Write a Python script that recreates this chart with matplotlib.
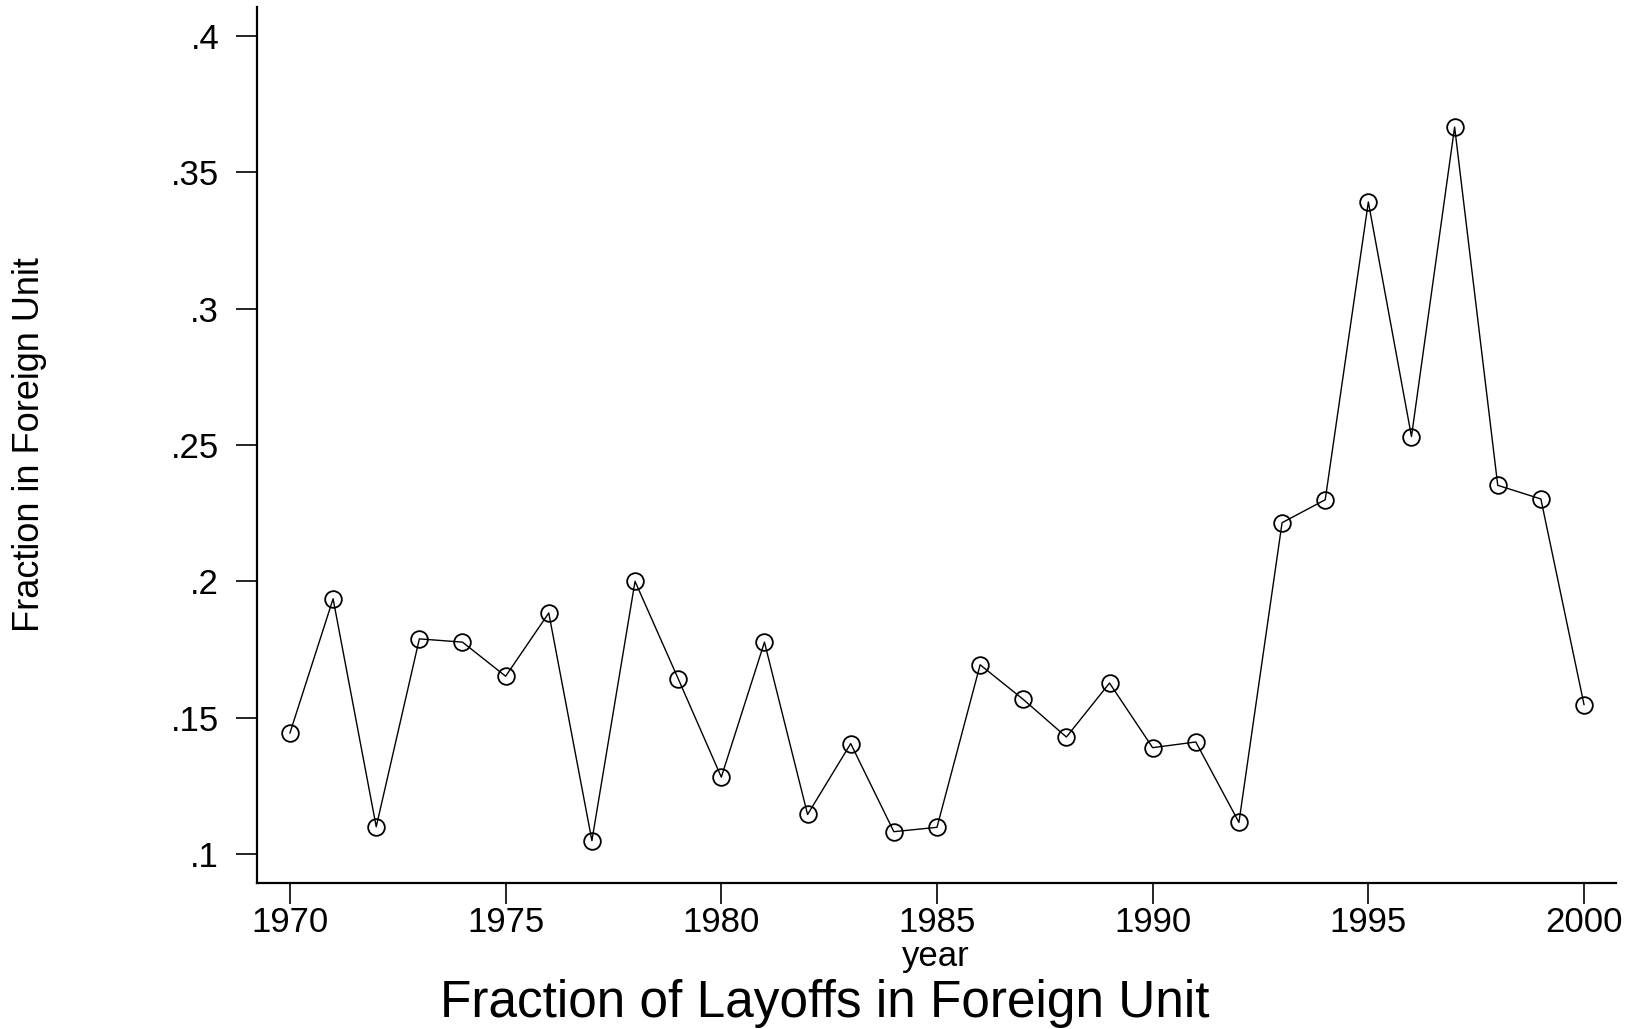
import numpy as np
import matplotlib
matplotlib.use("Agg")
import matplotlib.pyplot as plt
from matplotlib.ticker import FuncFormatter

plt.rcParams['font.family'] = ['Liberation Sans', 'DejaVu Sans']

years = np.arange(1970, 2001)
frac_foreign = [0.1444, 0.1936, 0.1100, 0.1789, 0.1777, 0.1652, 0.1884, 0.1049,
                0.2000, 0.1643, 0.1282, 0.1777, 0.1145, 0.1405, 0.1082, 0.1098,
                0.1694, 0.1567, 0.1429, 0.1627, 0.1390, 0.1411, 0.1116, 0.2215,
                0.2299, 0.3391, 0.2531, 0.3666, 0.2352, 0.2302, 0.1548]
yticks = [0.1, 0.15, 0.2, 0.25, 0.3, 0.35, 0.4]
xticks = [1970, 1975, 1980, 1985, 1990, 1995, 2000]

fig = plt.figure(figsize=(16.27, 10.29), dpi=100)
ax = fig.add_axes([0.1578, 0.1422, 0.8354, 0.851])

ax.plot(years, frac_foreign, color='black', lw=1.0, marker='o', ms=12,
        mfc='none', mec='black', mew=1.3)

ax.set_xlim(1969.23, 2000.74)
ax.set_ylim(0.0895, 0.4106)
ax.set_xticks(xticks)
ax.set_yticks(yticks)
# stata-style labels without leading zero
ax.yaxis.set_major_formatter(FuncFormatter(lambda v, p: ('%g' % v).lstrip('0')))

for s in ['top', 'right']:
    ax.spines[s].set_visible(False)
for s in ['left', 'bottom']:
    ax.spines[s].set_linewidth(1.6)

ax.tick_params(axis='both', direction='out', length=15, width=1.2, labelsize=25)
ax.tick_params(axis='y', pad=12)
ax.tick_params(axis='x', pad=2)

fig.text(0.575, 0.070, 'year', ha='center', va='center', fontsize=25)
fig.text(0.018, 0.5675, 'Fraction in Foreign Unit', rotation=90,
         ha='center', va='center', fontsize=26)
fig.text(0.507, 0.0117, 'Fraction of Layoffs in Foreign Unit',
         ha='center', va='baseline', fontsize=37)

fig.savefig('out.png', dpi=100)
